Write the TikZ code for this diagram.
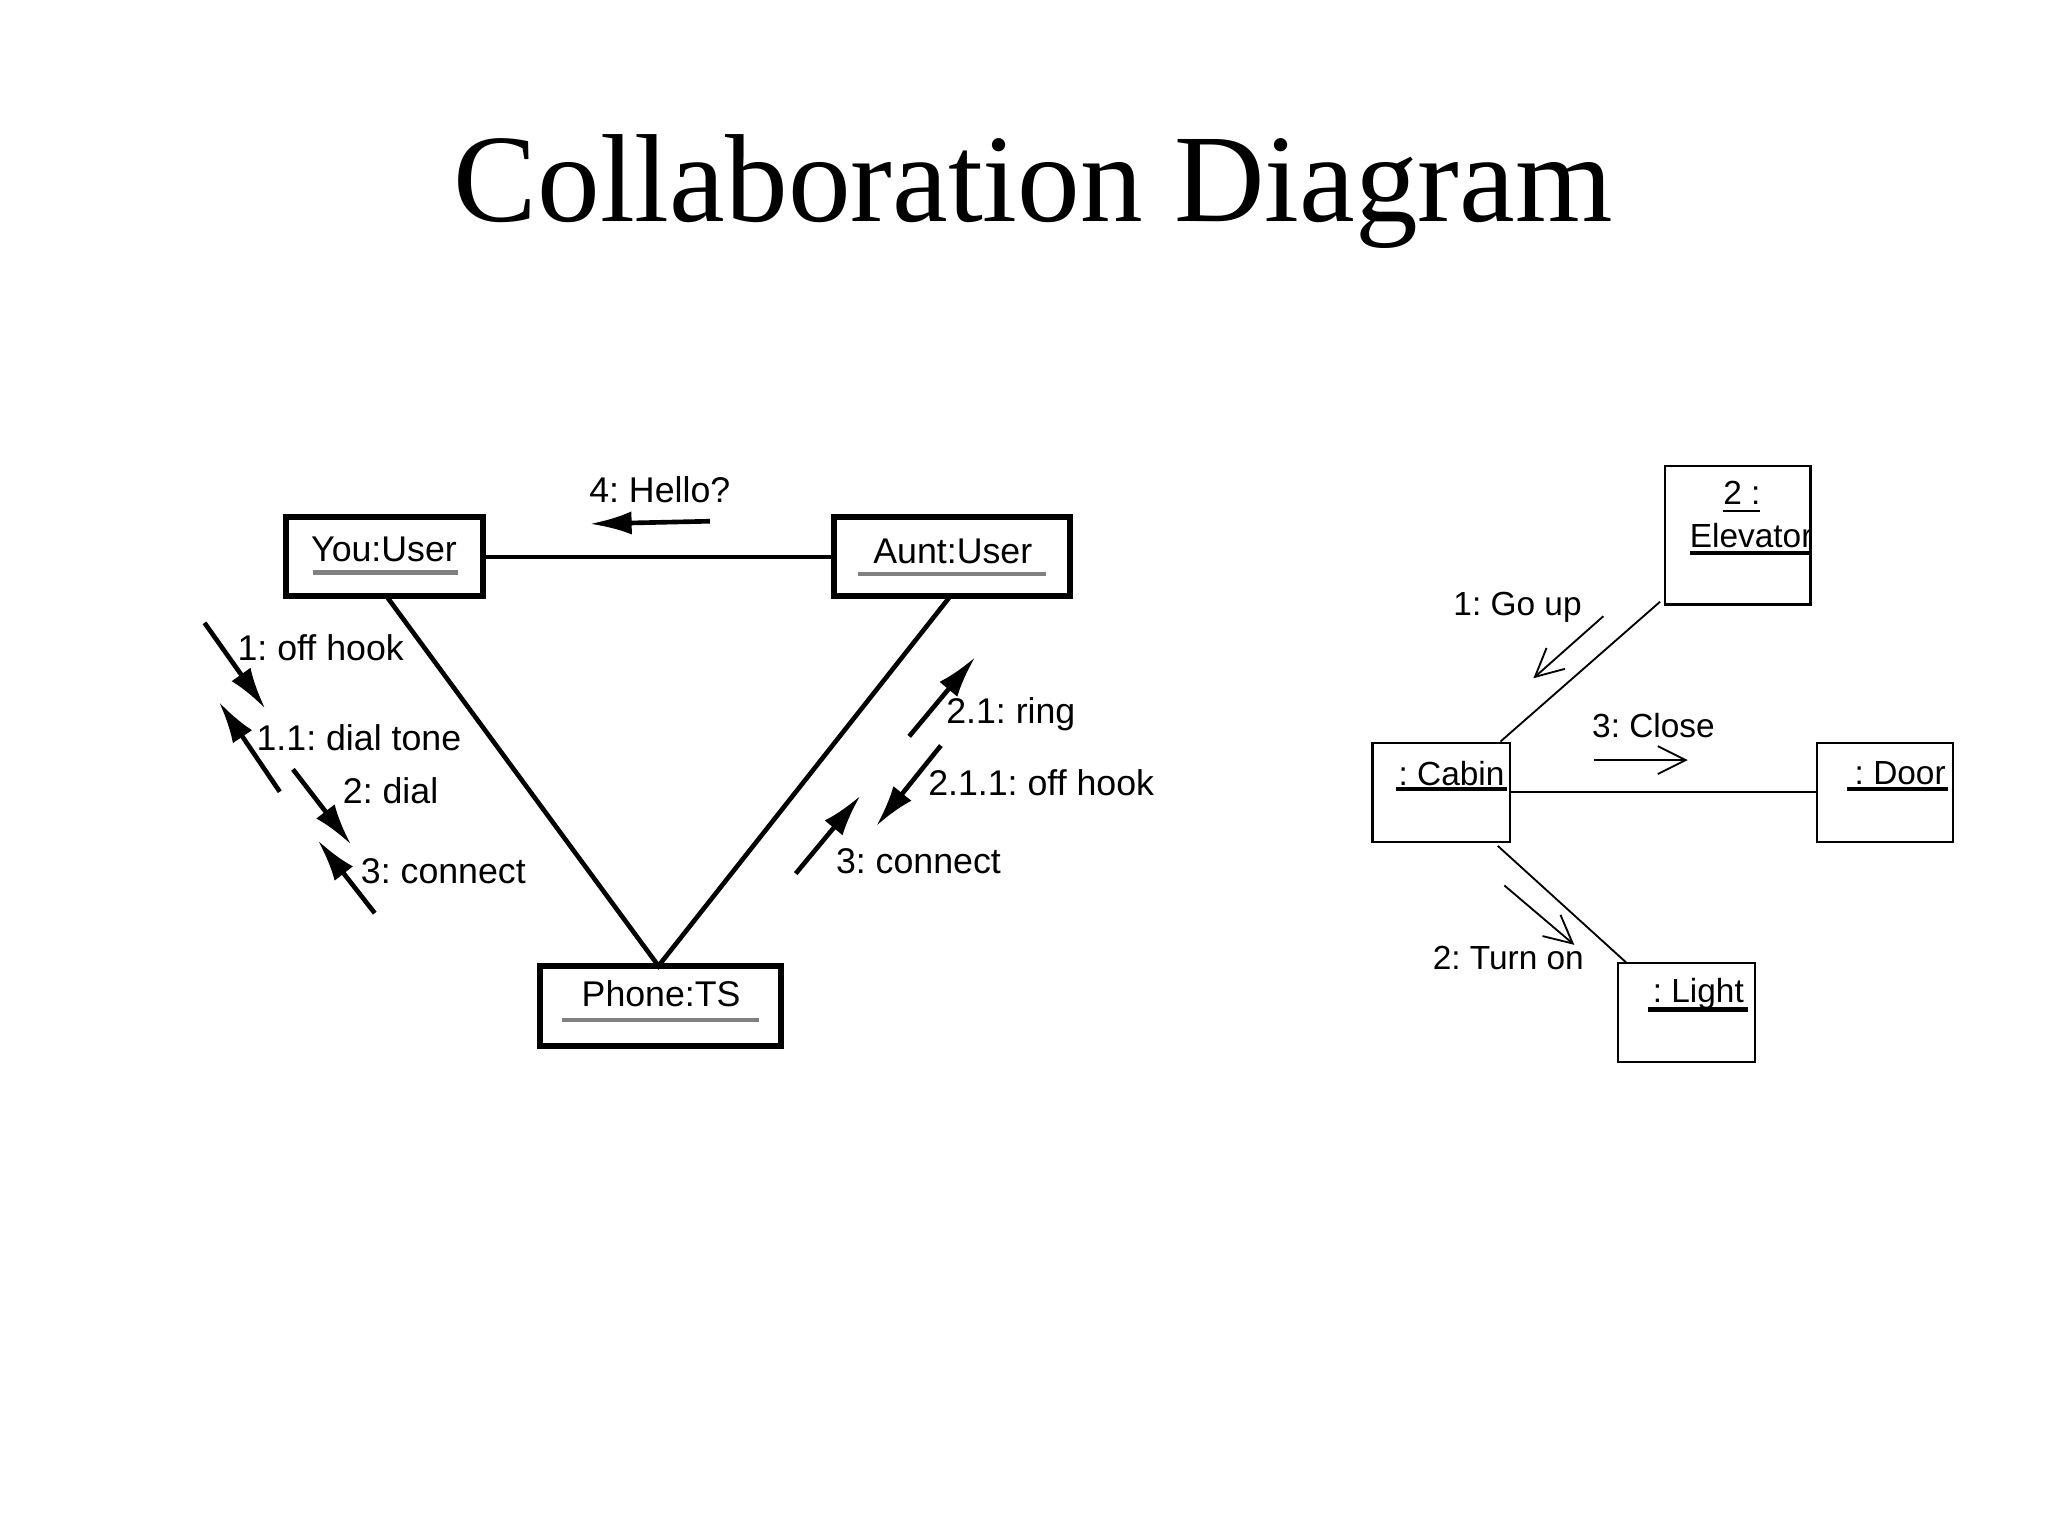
\documentclass[tikz,border=0pt]{standalone}
\usepackage{fontspec}
\setmainfont{Liberation Serif}
\newfontfamily\lsans{Liberation Sans}
\usetikzlibrary{arrows.meta}
\frenchspacing
\begin{document}
\begin{tikzpicture}[x=0.01cm,y=-0.01cm,
  obj/.style={draw,line width=1.3pt,inner sep=0},
  sobj/.style={draw,line width=0.5pt,inner sep=0},
  lnk/.style={line width=1pt},
  slnk/.style={line width=0.4pt},
  msg/.style={line width=1pt,-{Latex[length=9pt,width=5pt]}},
  smsg/.style={line width=0.4pt,-{Straight Barb[length=6pt,width=6pt]}},
  lbl/.style={font=\lsans\frenchspacing\fontsize{7.7}{9}\selectfont,inner sep=0},
  slbl/.style={font=\lsans\frenchspacing\fontsize{7.2}{9}\selectfont,inner sep=0}]
\useasboundingbox (0,0) rectangle (1552,1164);
\node[font=\fontsize{27}{31}\selectfont] (title) at (783,145) {Collaboration Diagram};
% left diagram
\node[obj,minimum width=1.49cm,minimum height=0.6cm] (you) at (291.5,422) {};
\node[lbl] (yout) at (291,416) {You:User};
\draw[gray,line width=1pt] (237,434) -- (347,434);
\node[obj,minimum width=1.79cm,minimum height=0.6cm] (aunt) at (721.5,422) {};
\node[lbl] (auntt) at (722,418) {Aunt:User};
\draw[gray,line width=1pt] (650,435) -- (793,435);
\node[obj,minimum width=1.83cm,minimum height=0.61cm] (phone) at (500.5,762.5) {};
\node[lbl] (phonet) at (501,753) {Phone:TS};
\draw[gray,line width=1pt] (426,773) -- (575,773);
\draw[lnk] (you.east) -- (aunt.west);
\coordinate (ys) at (293,452); \coordinate (as) at (720,452); \coordinate (pt) at (499,732);
\draw[lnk] (ys) -- (pt) -- (as);
\coordinate (h1) at (538,395); \coordinate (h2) at (447,397);
\draw[msg] (h1) -- (h2); \node[lbl] (hl) at (500,371) {4: Hello?};
\coordinate (a1) at (155,472); \coordinate (a2) at (201,537);
\draw[msg] (a1) -- (a2); \node[lbl] (al) at (243,491) {1: off hook};
\coordinate (b1) at (212,600); \coordinate (b2) at (166,532);
\draw[msg] (b1) -- (b2); \node[lbl] (bl) at (272,559) {1.1: dial tone};
\coordinate (c1) at (222,583); \coordinate (c2) at (266,640);
\draw[msg] (c1) -- (c2); \node[lbl] (cl) at (296,599) {2: dial};
\coordinate (d1) at (284,692); \coordinate (d2) at (241,637);
\draw[msg] (d1) -- (d2); \node[lbl] (dl) at (336,660) {3: connect};
\coordinate (e1) at (689,558); \coordinate (e2) at (739,498);
\draw[msg] (e1) -- (e2); \node[lbl] (el) at (766,541) {2.1: ring};
\coordinate (f1) at (713,565); \coordinate (f2) at (664,626);
\draw[msg] (f1) -- (f2); \node[lbl] (fl) at (789,593) {2.1.1: off hook};
\coordinate (g1) at (603,662); \coordinate (g2) at (652,603);
\draw[msg] (g1) -- (g2); \node[lbl] (gl) at (696,653) {3: connect};
% right diagram
\node[sobj,minimum width=1.10cm,minimum height=1.05cm] (elev) at (1317,405.5) {};
\node[slbl] (elevt1) at (1320,377) {\underline{2 :}};
\node[slbl] (elevt2) at (1327,406) {Elevator};
\draw[line width=1pt] (1281,419) -- (1372,419);
\node[sobj,minimum width=1.04cm,minimum height=0.75cm] (cabin) at (1092,600.5) {};
\node[slbl] (cabint) at (1100,586) {: Cabin};
\draw[line width=1pt] (1058,598) -- (1142,598);
\node[sobj,minimum width=1.03cm,minimum height=0.75cm] (door) at (1428.5,600.5) {};
\node[slbl] (doort) at (1440,586) {: Door};
\draw[line width=1pt] (1400,598) -- (1476,598);
\node[sobj,minimum width=1.04cm,minimum height=0.75cm] (light) at (1278,767.5) {};
\node[slbl] (lightt) at (1287,753) {: Light};
\draw[line width=1pt] (1249,765) -- (1325,765);
\coordinate (el1) at (1258,456); \coordinate (cb1) at (1137,562);
\draw[slnk] (el1) -- (cb1);
\draw[slnk] (cabin.east) -- (door.west);
\coordinate (cb2) at (1135,641); \coordinate (li1) at (1233,730);
\draw[slnk] (cb2) -- (li1);
\coordinate (m1) at (1215,467); \coordinate (m2) at (1162,514);
\draw[smsg] (m1) -- (m2); \node[slbl] (ml) at (1150,460) {1: Go up};
\coordinate (n1) at (1208,576); \coordinate (n2) at (1279,576);
\draw[smsg] (n1) -- (n2); \node[slbl] (nl) at (1253,550) {3: Close};
\coordinate (o1) at (1140,671); \coordinate (o2) at (1193,716);
\draw[smsg] (o1) -- (o2); \node[slbl] (ol) at (1143,726) {2: Turn on};
\end{tikzpicture}
\end{document}
